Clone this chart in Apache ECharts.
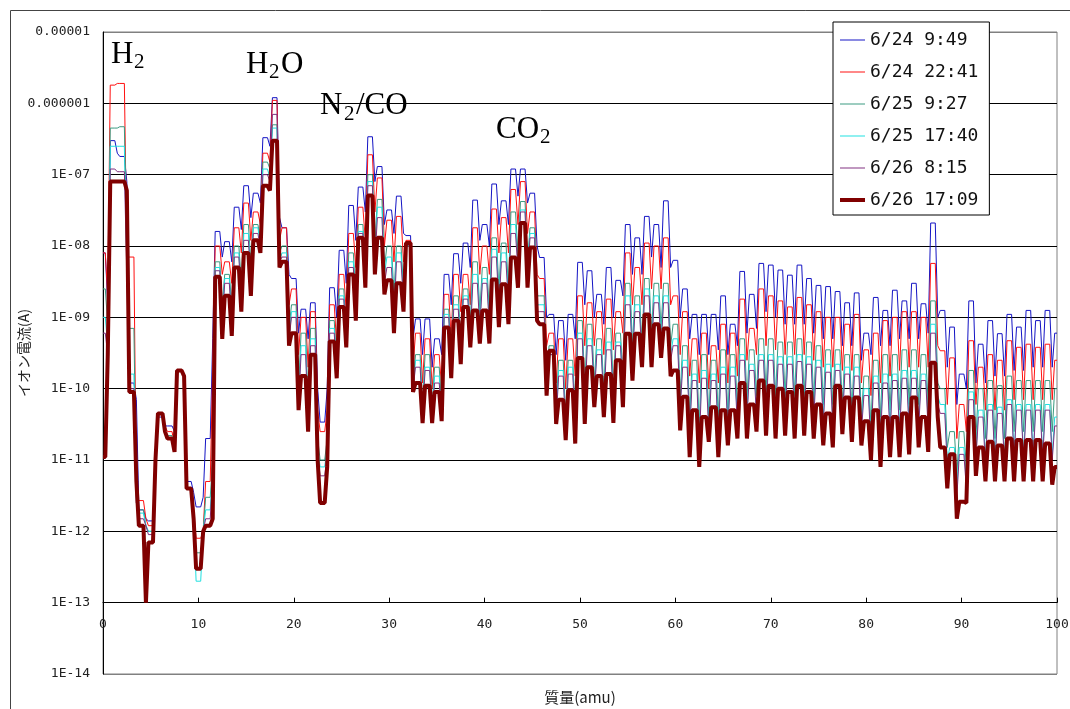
<!DOCTYPE html>
<html>
<head>
<meta charset="utf-8">
<script src="https://cdn.jsdelivr.net/npm/echarts@6/dist/echarts.min.js"></script>
<style>
html,body{margin:0;padding:0;background:#fff;}
#chart{width:1070px;height:709px;}
</style>
</head>
<body>
<div id="chart"></div>
<script>
// Legend / series names
const seriesNames = ['6/24 9:49', '6/24 22:41', '6/25 9:27', '6/25 17:40', '6/26 8:15', '6/26 17:09'];
// Y tick labels for decades 1E-14 ... 1E-05
const yTickLabels = ['1E-14','1E-13','1E-12','1E-11','1E-10','1E-09','1E-08','1E-07','0.000001','0.00001'];
const xTickLabels = ['0','10','20','30','40','50','60','70','80','90','100'];

// Peak current at each mass number 0..100 (A), and valley current between m and m+1 (at m+0.5)
const blue_peaks = [8e-9,3e-7,1.8e-7,1.2e-10,2e-12,1.4e-12,4e-11,3e-11,1.8e-10,5e-12,
 2.2e-12,2e-11,1.6e-8,1.15e-8,3.5e-8,7e-8,5.5e-8,3.3e-7,1.2e-6,1.8e-8,
 3.5e-9,1.3e-9,1.6e-9,3.4e-11,2.6e-9,8.7e-9,3.7e-8,6.7e-8,3.4e-7,1.3e-7,
 3.2e-8,5e-8,1.4e-8,9.5e-10,9.5e-10,5e-10,4e-9,7.8e-9,1.1e-8,4.4e-8,
 2e-8,7.4e-8,4.3e-8,1.2e-7,1.2e-7,5.5e-8,6.9e-9,1.1e-9,9e-10,1.1e-9,
 5.9e-9,4.5e-9,2.1e-9,5e-9,3.3e-9,2e-8,1.3e-8,2.6e-8,2e-8,4.3e-8,
 6.3e-9,2.5e-9,1.1e-9,1.1e-9,1.1e-9,2e-9,8e-10,4.4e-9,2.1e-9,5.7e-9,
 5.4e-9,4.6e-9,3.9e-9,5.4e-9,3.5e-9,2.8e-9,2.7e-9,2.3e-9,1.6e-9,2.2e-9,
 6e-10,1.9e-9,1.25e-9,2.4e-9,1.7e-9,3e-9,1.55e-9,2.1e-8,1.25e-9,7.3e-10,
 1.6e-10,1.7e-9,4.2e-10,9e-10,5.9e-10,1.1e-9,7.3e-10,1.25e-9,9e-10,1.25e-9,
 6e-10];
const blue_valleys = [1.5e-9,2e-7,8e-8,7e-11,1.5e-12,1e-11,3e-11,2.5e-11,1.5e-10,3.5e-12,
 3e-12,5e-10,7e-9,6e-9,1.7e-8,2.5e-8,4e-8,2.5e-7,2.5e-8,4e-9,
 6e-10,5e-10,1e-10,1e-10,1e-9,3e-9,1.2e-8,3e-8,8e-8,2e-8,
 1.5e-8,1.5e-8,5e-10,3e-10,2e-10,3e-10,1.5e-9,3e-9,5e-9,1.2e-8,
 1e-8,2e-8,2e-8,5e-8,4e-8,1e-8,1e-9,3e-10,2.5e-10,5e-10,
 1.5e-9,1e-9,8e-10,1e-9,2e-9,4e-9,4e-9,7e-9,5e-9,5e-9,
 1e-9,5e-10,3e-10,3e-10,3.5e-10,3e-10,4e-10,6e-10,7e-10,1.2e-9,
 1e-9,8e-10,8e-10,8e-10,6e-10,5e-10,5e-10,4e-10,4e-10,2.5e-10,
 3e-10,4e-10,4e-10,5e-10,5e-10,5e-10,6e-10,1e-9,2e-10,6e-11,
 1e-10,1.2e-10,1.2e-10,1.5e-10,1.5e-10,1.8e-10,1.8e-10,2e-10,2e-10,2e-10];

const red_peaks = [8e-9,1.8e-6,1.9e-6,7e-9,2.7e-12,1.2e-12,4.5e-11,2.5e-11,1.8e-10,4e-12,
 8e-13,5e-12,1e-8,6e-9,1.8e-8,4e-8,3e-8,2e-7,1.1e-6,1.8e-8,
 2.5e-9,1e-9,1.2e-9,2.5e-11,1.5e-9,4e-9,1.5e-8,3.5e-8,1.9e-7,9e-8,
 2.3e-8,2.6e-8,1.2e-8,6e-10,5e-10,3e-10,2.1e-9,4e-9,4e-9,1.8e-8,
 1e-8,3.3e-8,2.5e-8,6.2e-8,8e-8,3e-8,3.5e-9,6e-10,5e-10,5e-10,
 2e-9,1.6e-9,1.2e-9,1.8e-9,1.2e-9,8e-9,5e-9,1.1e-8,1e-8,1.3e-8,
 2e-9,1.2e-9,5e-10,6e-10,4e-10,8e-10,6e-10,1.8e-9,7e-10,2.5e-9,
 2e-9,1.7e-9,1.4e-9,1.9e-9,1.5e-9,1.2e-9,1e-9,1e-9,8e-10,1.1e-9,
 3.5e-10,6e-10,9e-10,1e-9,1.2e-9,1.2e-9,1e-9,5.7e-9,3.4e-10,2.7e-10,
 6e-11,4.7e-10,2e-10,3e-10,2.5e-10,4.7e-10,3.8e-10,4.2e-10,3.8e-10,4.2e-10,
 2.5e-10];
const red_valleys = [2e-9,1.9e-6,7e-9,2.5e-12,1.5e-12,1e-11,3e-11,1.5e-11,1.5e-10,2e-12,
 1e-12,2e-10,4e-9,3e-9,8e-9,1.2e-8,2e-8,1.5e-7,1.2e-8,1.5e-9,
 3e-10,2e-10,5e-11,5e-11,4e-10,1.2e-9,5e-9,1.2e-8,3e-8,1e-8,
 6e-9,6e-9,2e-10,1.2e-10,1e-10,1e-10,5e-10,1.2e-9,1.5e-9,4e-9,
 4e-9,8e-9,8e-9,2e-8,1.5e-8,4e-9,4e-10,1.2e-10,1e-10,1.5e-10,
 4e-10,4e-10,3e-10,3.5e-10,6e-10,1.5e-9,1.5e-9,2.5e-9,2.5e-9,1.5e-9,
 3e-10,1.5e-10,1.2e-10,1e-10,1.2e-10,1.2e-10,1.5e-10,2.5e-10,3e-10,4e-10,
 3.5e-10,3e-10,3e-10,3e-10,2.5e-10,2e-10,2e-10,1.8e-10,1.8e-10,1.2e-10,
 8e-11,1.2e-10,1.5e-10,1.8e-10,2e-10,2e-10,2e-10,4e-10,6e-11,2e-11,
 2.5e-11,6e-11,5e-11,5e-11,5e-11,7e-11,7e-11,7e-11,7e-11,7e-11];

const teal_peaks = [2.5e-9,4.5e-7,4.7e-7,7e-10,2e-12,1e-12,4.5e-11,2.2e-11,1.8e-10,4e-12,
 5e-13,3e-12,6e-9,4e-9,1e-8,2e-8,2e-8,1.5e-7,5e-7,1e-8,
 1.5e-9,6e-10,7e-10,1e-11,9e-10,2.5e-9,8e-9,2e-8,1e-7,4.5e-8,
 1e-8,1e-8,1e-8,3e-10,3e-10,2e-10,1.3e-9,2e-9,2.5e-9,6e-9,
 5e-9,1.3e-8,1.1e-8,3e-8,4.2e-8,1.8e-8,2e-9,4e-10,2.5e-10,2.5e-10,
 9e-10,8e-10,5e-10,7e-10,6e-10,3e-9,2e-9,3.5e-9,3e-9,3e-9,
 8e-10,4e-10,2.5e-10,3e-10,2.5e-10,3.5e-10,3e-10,5e-10,3.5e-10,5e-10,
 5e-10,4.5e-10,4.5e-10,5e-10,4.5e-10,4e-10,3.5e-10,3.5e-10,3e-10,3e-10,
 1.5e-10,2.5e-10,3e-10,3e-10,3.5e-10,3.5e-10,3e-10,1.7e-9,1e-10,2.5e-11,
 2.5e-11,1.8e-10,1e-10,1.3e-10,1.1e-10,1.5e-10,1.3e-10,1.3e-10,1.3e-10,1.3e-10,
 1e-10];
const teal_valleys = [8e-10,4.5e-7,1e-8,3e-12,1.2e-12,1e-11,2.5e-11,1.3e-11,1.5e-10,1.5e-12,
 1e-12,1e-11,1.5e-9,1.5e-9,3e-9,6e-9,1.2e-8,1.2e-7,8e-9,7e-10,
 1e-10,6e-11,2e-11,2e-11,2e-10,6e-10,2e-9,5e-9,1e-8,5e-9,
 2e-9,2.5e-9,1.2e-10,6e-11,6e-11,6e-11,3e-10,5e-10,8e-10,1.2e-9,
 1.2e-9,2.5e-9,2.5e-9,8e-9,6e-9,2e-9,1.5e-10,5e-11,4e-11,5e-11,
 1e-10,1.2e-10,9e-11,1e-10,1.5e-10,4e-10,4e-10,6e-10,7e-10,4e-10,
 8e-11,4e-11,3e-11,4e-11,4e-11,4e-11,5e-11,7e-11,8e-11,9e-11,
 8e-11,8e-11,8e-11,8e-11,7e-11,6e-11,6e-11,6e-11,5e-11,4e-11,
 3e-11,4e-11,5e-11,5e-11,6e-11,6e-11,6e-11,1.2e-10,1.5e-11,6e-12,
 8e-12,2e-11,2e-11,2e-11,2e-11,2.5e-11,2.5e-11,2.5e-11,2.5e-11,2.5e-11];

const cyan_peaks = [1e-9,2.5e-7,2.5e-7,1.6e-10,1.8e-12,1e-12,4.5e-11,2e-11,1.8e-10,4e-12,
 2e-13,2e-12,5e-9,3.5e-9,8e-9,1.5e-8,1.8e-8,1.2e-7,4.5e-7,8e-9,
 1.2e-9,4e-10,5e-10,8e-12,7e-10,2e-9,6e-9,1.6e-8,8e-8,3.5e-8,
 7e-9,8e-9,1e-8,2.5e-10,2e-10,1.5e-10,1.1e-9,1.5e-9,2e-9,4e-9,
 3.5e-9,9e-9,8e-9,2e-8,3.2e-8,1.5e-8,1.5e-9,3e-10,1.8e-10,2e-10,
 6e-10,5e-10,3.5e-10,4.5e-10,4.5e-10,2e-9,1.5e-9,2.5e-9,2e-9,2e-9,
 5e-10,2.5e-10,1.6e-10,1.8e-10,1.6e-10,2e-10,2e-10,3e-10,2.2e-10,3e-10,
 3e-10,2.8e-10,2.8e-10,3e-10,2.8e-10,2.5e-10,2.2e-10,2.2e-10,2e-10,2e-10,
 1e-10,1.5e-10,1.6e-10,1.6e-10,1.8e-10,1.8e-10,1.6e-10,8e-10,6e-11,1.5e-11,
 1.5e-11,9e-11,5e-11,6e-11,5.5e-11,7e-11,6e-11,6e-11,6e-11,6e-11,
 4e-11];
const cyan_valleys = [4e-10,2.5e-7,5e-9,2.5e-12,1.2e-12,1e-11,2.5e-11,1.3e-11,1.5e-10,1.5e-12,
 1e-12,8e-12,1e-9,1e-9,2e-9,4e-9,1e-8,9e-8,6e-9,5e-10,
 7e-11,4e-11,1.5e-11,1.5e-11,1.7e-10,5e-10,1.5e-9,4e-9,8e-9,4e-9,
 1.5e-9,2e-9,1e-10,5e-11,5e-11,5e-11,2.5e-10,4e-10,6e-10,9e-10,
 9e-10,1.8e-9,2e-9,6e-9,5e-9,1.5e-9,1.2e-10,4e-11,3e-11,3.5e-11,
 7e-11,9e-11,7e-11,7e-11,1.1e-10,3e-10,3e-10,4e-10,5e-10,3e-10,
 6e-11,3e-11,2e-11,3e-11,2.5e-11,3e-11,3.5e-11,4.5e-11,5e-11,5.5e-11,
 5e-11,5e-11,5e-11,5e-11,4.5e-11,4e-11,3.5e-11,4e-11,3.5e-11,3e-11,
 2e-11,2.5e-11,3e-11,3e-11,3.5e-11,3.5e-11,3.5e-11,8e-11,1e-11,4e-12,
 5e-12,1.2e-11,1e-11,1e-11,1e-11,1.2e-11,1.2e-11,1.2e-11,1.2e-11,1.2e-11];

const purple_peaks = [6e-10,1.2e-7,1.1e-7,1e-10,1.5e-12,9e-13,4.5e-11,2e-11,1.8e-10,4e-12,
 3e-13,1.5e-12,4.5e-9,3e-9,7e-9,1.2e-8,1.5e-8,1e-7,7e-7,7e-9,
 1e-9,3e-10,4e-10,6e-12,6e-10,1.8e-9,5e-9,1.5e-8,7e-8,2.5e-8,
 5e-9,6e-9,1e-8,2e-10,1.8e-10,1.2e-10,1e-9,1.3e-9,1.8e-9,3e-9,
 3e-9,7e-9,6e-9,1.5e-8,3e-8,1.3e-8,1.2e-9,3e-10,1.5e-10,1.6e-10,
 5e-10,4e-10,3e-10,3.5e-10,4e-10,1.5e-9,1.2e-9,2e-9,1.6e-9,1.6e-9,
 4e-10,2e-10,1.3e-10,1.4e-10,1.3e-10,1.6e-10,1.5e-10,2.5e-10,1.8e-10,2.5e-10,
 2.5e-10,2.2e-10,2.2e-10,2.4e-10,2.2e-10,2e-10,1.7e-10,1.8e-10,1.6e-10,1.5e-10,
 8e-11,1.2e-10,1.2e-10,1.3e-10,1.4e-10,1.4e-10,1.3e-10,6e-10,4.5e-11,1.2e-11,
 1.2e-11,7e-11,4e-11,5e-11,4.5e-11,6e-11,5e-11,5e-11,5e-11,5e-11,
 3e-11];
const purple_valleys = [3e-10,1.1e-7,4e-9,2.5e-12,1.2e-12,1e-11,2.5e-11,1.3e-11,1.5e-10,1.5e-12,
 1e-12,6e-12,9e-10,9e-10,1.8e-9,3.5e-9,9e-9,8e-8,6e-9,5e-10,
 6e-11,3.5e-11,1.2e-11,1.2e-11,1.6e-10,4.5e-10,1.2e-9,3.5e-9,6e-9,3e-9,
 1e-9,1.6e-9,1e-10,4.5e-11,4.5e-11,4.5e-11,2e-10,3e-10,5e-10,7e-10,
 7e-10,1.4e-9,1.5e-9,4.5e-9,4e-9,1.2e-9,1e-10,3.5e-11,2.5e-11,3e-11,
 6e-11,8e-11,6e-11,6e-11,9e-11,2.5e-10,2.5e-10,3.5e-10,4e-10,2.5e-10,
 5e-11,2.5e-11,1.5e-11,2.5e-11,2e-11,2.5e-11,3e-11,3.5e-11,4e-11,4e-11,
 4e-11,4e-11,4e-11,4e-11,3.5e-11,3e-11,2.8e-11,3.2e-11,2.8e-11,2.5e-11,
 1.5e-11,2e-11,2.2e-11,2.2e-11,2.5e-11,2.8e-11,2.6e-11,6e-11,8e-12,3e-12,
 4e-12,1e-11,8e-12,8e-12,8e-12,1e-11,1e-11,1e-11,1e-11,1e-11];

const maroon_peaks = [1.1e-11,8e-8,8e-8,9e-11,1.2e-12,7e-13,4.5e-11,2e-11,1.8e-10,4e-12,
 3e-13,1.2e-12,3.7e-9,2e-9,5e-9,8e-9,1.2e-8,7e-8,3e-7,6e-9,
 6e-10,1.5e-10,3e-10,2.5e-12,4.6e-10,1.4e-9,4e-9,1.3e-8,5.1e-8,1.3e-8,
 3.3e-9,3e-9,1.1e-8,1.2e-10,1.1e-10,9e-11,7.2e-10,9e-10,1.4e-9,1.25e-9,
 1.25e-9,3.4e-9,2.9e-9,6.9e-9,2.1e-8,9.5e-9,8e-10,3.4e-10,7e-11,9.5e-11,
 2.7e-10,2e-10,1.5e-10,1.6e-10,2.5e-10,5.9e-10,5.9e-10,1.1e-9,8e-10,7e-10,
 1.8e-10,7.7e-11,5e-11,4e-11,5.5e-11,5e-11,5e-11,1.2e-10,6e-11,1.3e-10,
 1.1e-10,1e-10,9e-11,1.1e-10,9e-11,6e-11,4.5e-11,1.1e-10,7.5e-11,7.5e-11,
 3.5e-11,5e-11,4e-11,4e-11,4.5e-11,7.5e-11,4e-11,2.3e-10,1.5e-11,1.2e-11,
 2.6e-12,4e-11,1.5e-11,1.8e-11,1.6e-11,2e-11,1.9e-11,1.9e-11,1.9e-11,1.7e-11,
 8e-12];
const maroon_valleys = [3e-10,8e-8,6e-8,5e-12,1e-13,1e-11,2.5e-11,1.3e-11,1.5e-10,1.5e-12,
 1e-12,1.5e-12,5e-10,5.5e-10,1.2e-9,2e-9,8e-9,6e-8,5e-9,4e-10,
 5e-11,2.5e-11,1e-11,8e-12,1.4e-10,3.8e-10,9e-10,2.6e-9,4e-9,2.1e-9,
 6e-10,1.2e-9,9e-11,3.3e-11,3.3e-11,3.5e-11,1.4e-10,2.2e-10,3.8e-10,4.3e-10,
 4.3e-10,7.3e-10,8e-10,2.6e-9,2.6e-9,9e-10,8e-11,3.2e-11,1.9e-11,1.7e-11,
 3.2e-11,5.5e-11,4e-11,3.3e-11,5.5e-11,1.3e-10,2e-10,2e-10,2.7e-10,1.5e-10,
 2.6e-11,1.1e-11,8e-12,1.8e-11,1.1e-11,1.6e-11,2e-11,2e-11,2.5e-11,2.2e-11,
 2e-11,2.2e-11,2e-11,2.2e-11,2e-11,1.6e-11,1.5e-11,2.3e-11,1.8e-11,1.6e-11,
 1e-11,8e-12,1.1e-11,1.1e-11,1.2e-11,1.5e-11,1.3e-11,4e-11,4e-12,1.5e-12,
 2.5e-12,6e-12,5e-12,5e-12,5e-12,5e-12,5e-12,5e-12,5e-12,4.5e-12];

const seriesPeaks = [blue_peaks, red_peaks, teal_peaks, cyan_peaks, purple_peaks, maroon_peaks];
const seriesValleys = [blue_valleys, red_valleys, teal_valleys, cyan_valleys, purple_valleys, maroon_valleys];
const seriesColors = ['#1414c4', '#ff1010', '#3a9a80', '#20e0e0', '#803080', '#800000'];
const seriesWidths = [1, 1, 1, 1, 1, 4];

const TOP_HALF = 0.24; // half-width of each flat-topped mass peak (amu)
function buildLine(peaks, valleys) {
  const pts = [];
  const last = peaks.length - 1;
  for (let m = 0; m <= last; m++) {
    pts.push([Math.max(0, m - TOP_HALF), peaks[m]]);
    pts.push([Math.min(last, m + TOP_HALF), peaks[m]]);
    if (m < valleys.length) pts.push([m + 0.5, valleys[m]]);
  }
  return pts;
}

const chart = echarts.init(document.getElementById('chart'), null, {renderer: 'canvas'});
const serif = '"Liberation Serif","Times New Roman",serif';
function txt(s, x, y, size) {
  return {type: 'text', x: x, y: y, z: 100,
    style: {text: s, font: size + 'px ' + serif, fill: '#000',
      textAlign: 'left', textVerticalAlign: 'middle', align: 'left', verticalAlign: 'middle'}};
}

const option = {
  animation: false,
  backgroundColor: '#fff',
  grid: {left: 103, right: 13, top: 32, bottom: 35, show: true, borderColor: '#808080', borderWidth: 1,
    backgroundColor: '#fff', containLabel: false, outerBoundsMode: 'none'},
  legend: {
    data: seriesNames.map((n, i) => ({
      name: n,
      icon: i === 5 ? 'path://M0,0 L25,0 L25,4 L0,4 Z' : 'path://M0,0 L25,0 L25,1 L0,1 Z'
    })),
    orient: 'vertical',
    left: 833, top: 22,
    padding: [8, 11, 5, 7],
    itemGap: 12,
    itemWidth: 25, itemHeight: 14,
    backgroundColor: '#fff',
    borderColor: '#000', borderWidth: 1,
    textStyle: {fontFamily: '"DejaVu Sans Mono", monospace', fontSize: 18, color: '#111', lineHeight: 20},
    z: 50
  },
  xAxis: {
    type: 'value', min: 0, max: 100, interval: 10,
    offset: -71.33,
    axisLine: {lineStyle: {color: '#000', width: 1}},
    axisTick: {inside: true, length: 5, lineStyle: {color: '#000'}},
    axisLabel: {margin: 15, color: '#222', fontFamily: '"DejaVu Sans Mono", monospace', fontSize: 13,
      formatter: v => xTickLabels[Math.round(v / 10)]},
    splitLine: {show: false},
    name: '質量(amu)', nameLocation: 'middle', nameGap: 87, nameMoveOverlap: false,
    nameTextStyle: {fontFamily: '"Noto Sans CJK JP", sans-serif', fontSize: 15, color: '#222'}
  },
  yAxis: {
    type: 'log', logBase: 10, min: 1e-14, max: 1e-5, splitNumber: 9,
    axisLine: {show: true, lineStyle: {color: '#000', width: 1}},
    axisTick: {show: false},
    axisLabel: {margin: 13, color: '#222', fontFamily: '"DejaVu Sans Mono", monospace', fontSize: 13,
      formatter: v => yTickLabels[Math.round(Math.log10(v)) + 14]},
    splitLine: {show: true, lineStyle: {width: 1,
      color: ['#808080','#000','#000','#000','#000','#000','#000','#000','#000','#808080']}},
    name: 'イオン電流(A)', nameLocation: 'middle', nameGap: 72, nameMoveOverlap: false,
    nameTextStyle: {fontFamily: '"Noto Sans CJK JP", sans-serif', fontSize: 14, color: '#222'}
  },
  graphic: [
    {type: 'rect', shape: {x: 10.5, y: 10.5, width: 1100, height: 740}, silent: true, z: -10,
      style: {fill: 'none', stroke: '#444', lineWidth: 1}},
    txt('H', 111, 55, 31), txt('2', 134, 62, 21),
    txt('H', 246, 65, 31), txt('2', 269, 72, 21), txt('O', 281, 65, 31),
    txt('N', 320, 106, 31), txt('2', 344, 114, 21), txt('/CO', 356, 106, 31),
    txt('CO', 496, 130, 31), txt('2', 540, 137, 21)
  ],
  series: seriesNames.map((name, i) => ({
    name: name,
    type: 'line',
    data: buildLine(seriesPeaks[i], seriesValleys[i]),
    showSymbol: false, symbol: 'none',
    lineStyle: {color: seriesColors[i], width: seriesWidths[i]},
    itemStyle: {color: seriesColors[i]},
    emphasis: {disabled: true},
    z: 2 + i
  }))
};
chart.setOption(option);
</script>
</body>
</html>
